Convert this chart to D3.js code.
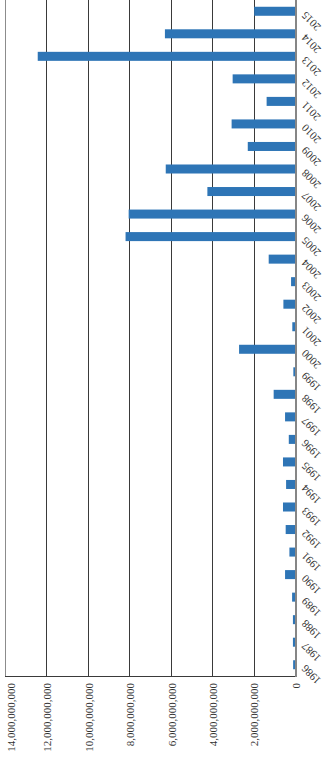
<!DOCTYPE html>
<html>
<head>
<meta charset="utf-8">
<script src="https://cdn.jsdelivr.net/npm/d3@7"></script>
<style>
  html, body { margin: 0; padding: 0; background: #fff; }
  svg { display: block; }
  .tick-label { font-family: "Liberation Serif", "Times New Roman", serif; font-size: 11px; fill: #333; }
</style>
</head>
<body>
<svg id="chart" width="325" height="757"></svg>
<script>
const years = [1986, 1987, 1988, 1989, 1990, 1991, 1992, 1993, 1994, 1995,
  1996, 1997, 1998, 1999, 2000, 2001, 2002, 2003, 2004, 2005,
  2006, 2007, 2008, 2009, 2010, 2011, 2012, 2013, 2014, 2015];
const values = [0.09e9, 0.10e9, 0.10e9, 0.14e9, 0.48e9, 0.27e9, 0.45e9, 0.58e9, 0.43e9, 0.58e9,
  0.30e9, 0.48e9, 1.03e9, 0.08e9, 2.70e9, 0.13e9, 0.56e9, 0.19e9, 1.27e9, 8.18e9,
  8.03e9, 4.23e9, 6.24e9, 2.28e9, 3.06e9, 1.37e9, 3.01e9, 12.42e9, 6.28e9, 1.97e9];
const valueTicks = [0, 2e9, 4e9, 6e9, 8e9, 10e9, 12e9, 14e9];

const svg = d3.select("#chart");
const plotTop = 0;
const plotBottom = 676;
const zeroX = 295;
const maxX = 5;

const data = years.map((year, i) => ({ year, value: values[i] }));

const x = d3.scaleLinear().domain([0, 14e9]).range([zeroX, maxX]);
const y = d3
  .scaleBand()
  .domain(years.slice().reverse())
  .range([plotTop, plotBottom])
  .paddingInner(0.6)
  .paddingOuter(0.3);

// gridlines
svg
  .append("g")
  .selectAll("line")
  .data(valueTicks.filter((t) => t > 0))
  .join("line")
  .attr("x1", (d) => Math.round(x(d)) + 0.5)
  .attr("x2", (d) => Math.round(x(d)) + 0.5)
  .attr("y1", plotTop)
  .attr("y2", plotBottom)
  .attr("stroke", (d) => (d === 14e9 ? "#8c8c8c" : "#3a3a3a"))
  .attr("stroke-width", 1);

// bottom border
svg
  .append("line")
  .attr("x1", maxX)
  .attr("x2", zeroX)
  .attr("y1", plotBottom + 0.5)
  .attr("y2", plotBottom + 0.5)
  .attr("stroke", "#3a3a3a");

// bars
svg
  .append("g")
  .selectAll("rect")
  .data(data)
  .join("rect")
  .attr("x", (d) => x(d.value))
  .attr("y", (d) => y(d.year))
  .attr("width", (d) => zeroX - x(d.value))
  .attr("height", y.bandwidth())
  .attr("fill", "#2E75B6");

// zero axis line
svg
  .append("line")
  .attr("x1", zeroX + 1)
  .attr("x2", zeroX + 1)
  .attr("y1", plotTop)
  .attr("y2", plotBottom + 1)
  .attr("stroke", "#868686")
  .attr("stroke-width", 2);

// value axis labels (rotated)
const fmt = d3.format(",");
svg
  .append("g")
  .selectAll("text")
  .data(valueTicks)
  .join("text")
  .attr("class", "tick-label")
  .attr("transform", (d) => `translate(${x(d) + (d === 14e9 ? 6 : 1)},${plotBottom + 7}) rotate(-90)`)
  .attr("text-anchor", "end")
  .attr("dy", "0.35em")
  .text((d) => fmt(d));

// category labels (diagonal)
svg
  .append("g")
  .selectAll("text")
  .data(years)
  .join("text")
  .attr("class", "tick-label")
  .attr("transform", (d) => `translate(${zeroX + 11},${y(d) + y.bandwidth() / 2 - 0.5}) rotate(-135)`)
  .attr("text-anchor", "end")
  .text((d) => d);
</script>
</body>
</html>
